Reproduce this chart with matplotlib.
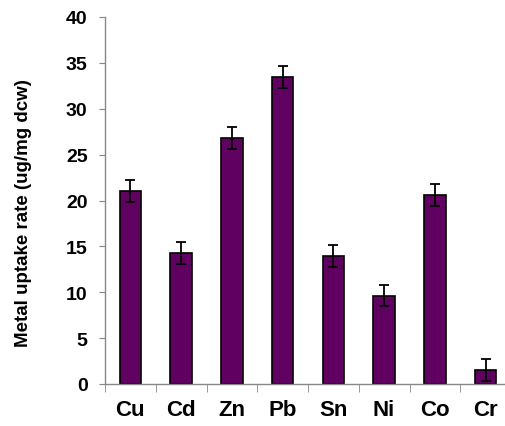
import matplotlib.pyplot as plt
import numpy as np

# Metal uptake data
metals = ['Cu', 'Cd', 'Zn', 'Pb', 'Sn', 'Ni', 'Co', 'Cr']
uptake = [21.0, 14.3, 26.8, 33.5, 13.9, 9.6, 20.6, 1.5]
uptake_err = [1.2, 1.2, 1.2, 1.2, 1.2, 1.15, 1.2, 1.2]

plt.rcParams['font.family'] = ['Liberation Sans', 'DejaVu Sans']

fig = plt.figure(figsize=(5.05, 4.27), dpi=100)
ax = fig.add_axes([105 / 505, 42 / 427, 406 / 505, 367 / 427])

x = np.arange(len(metals))
ax.bar(x, uptake, width=0.42, color='#600060', edgecolor='black', linewidth=1.2,
       yerr=uptake_err, capsize=3.6, error_kw={'elinewidth': 1.3, 'capthick': 1.3, 'ecolor': 'black'})

ax.set_xlim(-0.5, len(metals) - 0.5)
ax.set_ylim(0, 40)
ax.set_yticks(np.arange(0, 41, 5))
ax.set_yticklabels([str(v) for v in range(0, 41, 5)], fontsize=14, fontweight='bold')

# category labels in the middle, ticks at the boundaries
ax.set_xticks(x)
ax.set_xticklabels(metals, fontsize=16, fontweight='bold')
ax.tick_params(axis='x', which='major', length=0, pad=11)
ax.set_xticks(np.arange(-0.5, len(metals), 1), minor=True)
ax.tick_params(axis='x', which='minor', length=6, color='#888888', direction='out')
ax.tick_params(axis='y', length=4.5, color='#888888', direction='out', pad=8)

for s in ['top', 'right']:
    ax.spines[s].set_visible(False)
for s in ['left', 'bottom']:
    ax.spines[s].set_color('#888888')
    ax.spines[s].set_linewidth(1.0)

ax.set_ylabel('Metal uptake rate (ug/mg dcw)', fontsize=13.5, fontweight='bold')
ax.yaxis.set_label_coords(32 / 505, 214 / 427, transform=fig.transFigure)

plt.savefig('out.png', dpi=100)
